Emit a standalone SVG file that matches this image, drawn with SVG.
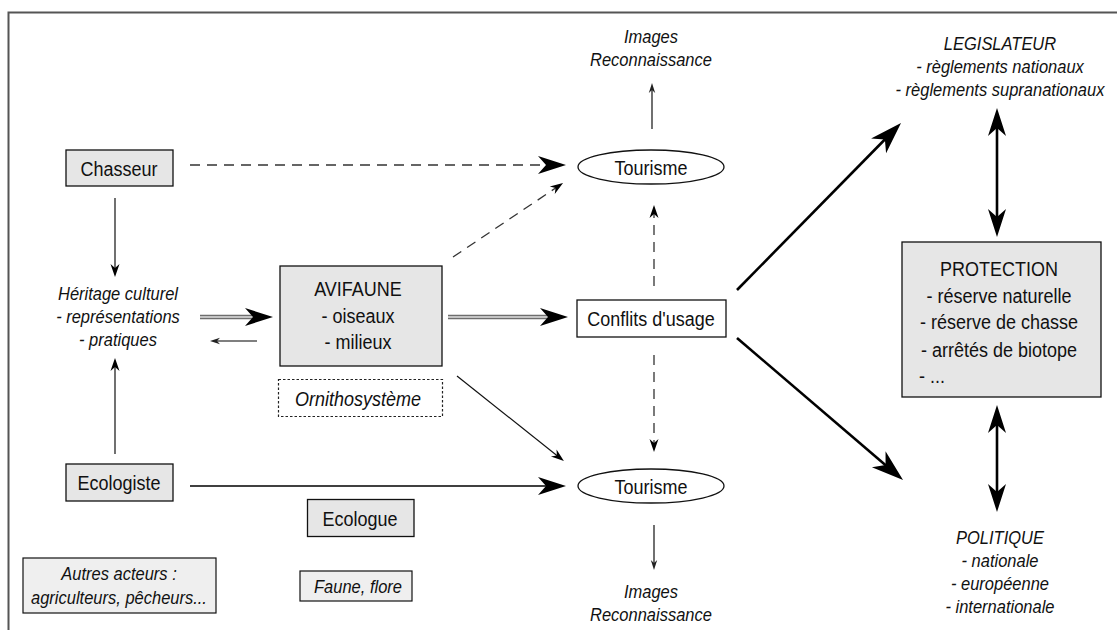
<svg xmlns="http://www.w3.org/2000/svg" width="1117" height="630" viewBox="0 0 1117 630">
<style>
text{font-family:"Liberation Sans",Arial,Helvetica,sans-serif;fill:#111;transform-box:fill-box;transform-origin:center;transform:scaleY(1.1);}
.t18{font-size:18px;}
.i16{font-size:16.5px;font-style:italic;}
.i18{font-size:18px;font-style:italic;}
.box{fill:#e6e6e6;stroke:#111;stroke-width:1.3;}
.boxl{fill:#efefef;stroke:#111;stroke-width:1.2;}
.white{fill:#fff;stroke:#111;stroke-width:1.3;}
.thin{stroke:#111;stroke-width:1.2;fill:none;}
.dash{stroke:#333;stroke-width:1.3;fill:none;stroke-dasharray:10 7;}
.thick{stroke:#000;stroke-width:2.6;fill:none;}
.grayo{stroke:#6e6e6e;stroke-width:4.5;fill:none;}
.grayi{stroke:#c4c4c4;stroke-width:2;fill:none;}
</style>
<defs>
<marker id="big" markerUnits="userSpaceOnUse" viewBox="-20 -12 36 24" markerWidth="36" markerHeight="24" refX="0" refY="0" orient="auto-start-reverse" overflow="visible">
<path d="M12,0 L-16,-9 L-8,0 L-16,9 Z" fill="#000"/>
</marker>
<marker id="big2" markerUnits="userSpaceOnUse" viewBox="-22 -12 38 24" markerWidth="38" markerHeight="24" refX="0" refY="0" orient="auto-start-reverse" overflow="visible">
<path d="M14,0 L-18,-10.5 L-9,0 L-18,10.5 Z" fill="#000"/>
</marker>
<marker id="med" markerUnits="userSpaceOnUse" viewBox="-10 -6 16 12" markerWidth="16" markerHeight="12" refX="0" refY="0" orient="auto" overflow="visible">
<path d="M5,0 L-8,-4.5 L-4,0 L-8,4.5 Z" fill="#000"/>
</marker>
<marker id="small" markerUnits="userSpaceOnUse" viewBox="-8 -4 12 8" markerWidth="12" markerHeight="8" refX="0" refY="0" orient="auto" overflow="visible">
<path d="M4,0 L-6,-3.2 L-3,0 L-6,3.2 Z" fill="#222"/>
</marker>
</defs>

<path d="M8.5,630 V12.5 H1117" fill="none" stroke="#555" stroke-width="2"/>

<g id="connectors">
<line class="dash" x1="190" y1="165" x2="554" y2="165" marker-end="url(#big)"/>
<line class="dash" x1="453" y1="257" x2="558.9" y2="185.8" marker-end="url(#med)"/>
<line class="thin" x1="115" y1="198" x2="115" y2="272" marker-end="url(#med)"/>
<line class="thin" x1="115" y1="454" x2="115" y2="363" marker-end="url(#med)"/>
<line class="grayo" x1="200" y1="317" x2="261" y2="317"/>
<line class="grayi" x1="200" y1="317" x2="261" y2="317" marker-end="url(#big)"/>
<line class="grayo" x1="448" y1="317" x2="556" y2="317"/>
<line class="grayi" x1="448" y1="317" x2="556" y2="317" marker-end="url(#big)"/>
<line x1="257" y1="341" x2="214" y2="341" stroke="#555" stroke-width="1.6" marker-end="url(#small)"/>
<line class="thin" x1="652" y1="129" x2="652" y2="87" marker-end="url(#small)"/>
<line class="dash" x1="654" y1="286" x2="654" y2="210" stroke-dasharray="9 6" marker-end="url(#med)"/>
<line class="dash" x1="654" y1="355" x2="654" y2="447" stroke-dasharray="9 6" marker-end="url(#med)"/>
<line class="thin" x1="654" y1="525" x2="654" y2="566" marker-end="url(#small)"/>
<line class="thin" x1="457" y1="376" x2="560" y2="458" marker-end="url(#med)"/>
<line x1="190" y1="486" x2="554" y2="486" stroke="#000" stroke-width="1.6" marker-end="url(#big)"/>
<line class="thick" x1="737" y1="290" x2="891.2" y2="133" marker-end="url(#big2)"/>
<line class="thick" x1="737" y1="338" x2="892.4" y2="470.9" marker-end="url(#big2)"/>
<line class="thick" x1="997" y1="120" x2="997" y2="225" marker-start="url(#big)" marker-end="url(#big)"/>
<line class="thick" x1="997" y1="417" x2="997" y2="500" marker-start="url(#big)" marker-end="url(#big)"/>
</g>

<g id="chasseur">
<rect class="box" x="66" y="150" width="107" height="36"/>
<text class="t18" x="119" y="175" text-anchor="middle">Chasseur</text>
</g>

<g id="heritage">
<text class="i16" x="118" y="299" text-anchor="middle">Héritage culturel</text>
<text class="i16" x="118" y="322" text-anchor="middle">- représentations</text>
<text class="i16" x="118" y="345" text-anchor="middle">- pratiques</text>
</g>

<g id="avifaune">
<rect class="box" x="280" y="266" width="162" height="100"/>
<text class="t18" x="358" y="295" text-anchor="middle">AVIFAUNE</text>
<text class="t18" x="358" y="322" text-anchor="middle">- oiseaux</text>
<text class="t18" x="358" y="348" text-anchor="middle">- milieux</text>
</g>

<g id="ornithosysteme">
<rect x="278.5" y="379.5" width="164" height="37" fill="#fff" stroke="#222" stroke-width="1.2" stroke-dasharray="2.5 2"/>
<text class="i18" x="358" y="405" text-anchor="middle">Ornithosystème</text>
</g>

<g id="ecologiste">
<rect class="box" x="66" y="464" width="107" height="37"/>
<text class="t18" x="119" y="489" text-anchor="middle">Ecologiste</text>
</g>

<g id="ecologue">
<rect class="box" x="307.5" y="499.5" width="106.5" height="37"/>
<text class="t18" x="360" y="525" text-anchor="middle">Ecologue</text>
</g>

<g id="autres">
<rect class="boxl" x="23" y="558" width="193" height="55"/>
<text class="i16" x="119" y="579" text-anchor="middle">Autres acteurs :</text>
<text class="i16" x="119" y="603" text-anchor="middle">agriculteurs, pêcheurs...</text>
</g>

<g id="faune">
<rect class="boxl" x="300" y="571" width="112" height="30"/>
<text class="i16" x="358" y="592" text-anchor="middle">Faune, flore</text>
</g>

<g id="tourisme-haut">
<ellipse class="white" cx="651" cy="167" rx="73" ry="17"/>
<text class="t18" x="651" y="174" text-anchor="middle">Tourisme</text>
</g>

<g id="images-haut">
<text class="i16" x="651" y="42" text-anchor="middle">Images</text>
<text class="i16" x="651" y="65" text-anchor="middle">Reconnaissance</text>
</g>

<g id="conflits">
<rect class="white" x="577" y="300" width="149" height="37"/>
<text class="t18" x="651" y="325" text-anchor="middle">Conflits d'usage</text>
</g>

<g id="tourisme-bas">
<ellipse class="white" cx="651" cy="486" rx="73" ry="17"/>
<text class="t18" x="651" y="493" text-anchor="middle">Tourisme</text>
</g>

<g id="images-bas">
<text class="i16" x="651" y="597" text-anchor="middle">Images</text>
<text class="i16" x="651" y="620" text-anchor="middle">Reconnaissance</text>
</g>

<g id="legislateur">
<text class="i16" x="1000" y="49" text-anchor="middle">LEGISLATEUR</text>
<text class="i16" x="1000" y="72" text-anchor="middle">- règlements nationaux</text>
<text class="i16" x="1000" y="95" text-anchor="middle">- règlements supranationaux</text>
</g>

<g id="protection">
<rect class="box" x="902" y="242" width="199" height="155"/>
<text class="t18" x="999" y="275" text-anchor="middle">PROTECTION</text>
<text class="t18" x="999" y="302" text-anchor="middle">- réserve naturelle</text>
<text class="t18" x="999" y="328" text-anchor="middle">- réserve de chasse</text>
<text class="t18" x="999" y="356" text-anchor="middle">- arrêtés de biotope</text>
<text class="t18" x="919" y="382">- ...</text>
</g>

<g id="politique">
<text class="i16" x="1000" y="543" text-anchor="middle">POLITIQUE</text>
<text class="i16" x="1000" y="566" text-anchor="middle">- nationale</text>
<text class="i16" x="1000" y="589" text-anchor="middle">- européenne</text>
<text class="i16" x="1000" y="612" text-anchor="middle">- internationale</text>
</g>
</svg>
